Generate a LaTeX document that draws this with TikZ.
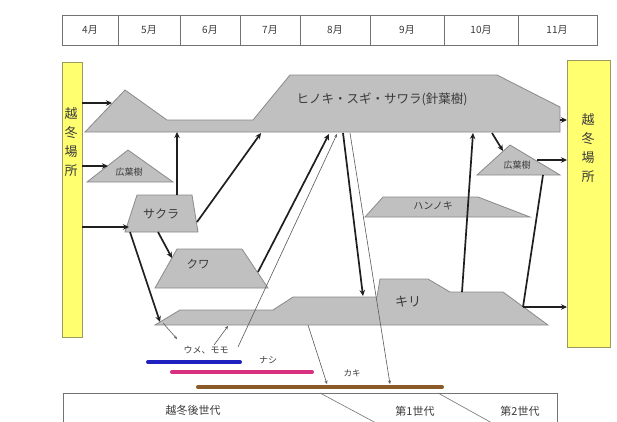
\documentclass[tikz,border=0pt]{standalone}
\usepackage{fontspec}
\setmainfont{Noto Sans CJK JP}
\usetikzlibrary{arrows.meta}
\definecolor{shapefill}{HTML}{C0C0C0}
\definecolor{shapeline}{HTML}{8A8A8A}
\definecolor{ybfill}{HTML}{FFFF70}
\definecolor{ybline}{HTML}{9A9A60}
\definecolor{txt}{HTML}{3A3A3A}
\definecolor{barblue}{HTML}{2020C0}
\definecolor{barpink}{HTML}{D8307E}
\definecolor{barbrown}{HTML}{8A5A28}
\begin{document}
\begin{tikzpicture}[x=1pt,y=-1pt,
  treeshape/.style={fill=shapefill,draw=shapeline,line width=0.8pt,line join=miter},
  ybox/.style={fill=ybfill,draw=ybline,line width=1pt,inner sep=0pt},
  lab/.style={text=txt,inner sep=0pt,font=\fontsize{#1}{#1}\selectfont},
  lab/.default=9,
  vlab/.style={text=txt,inner sep=0pt,align=center,font=\fontsize{13}{19}\selectfont},
  conn/.style={line width=1.7pt,draw=black!88,-{Stealth[length=6pt,width=5.5pt]}},
  plain/.style={line width=1.7pt,draw=black!88},
  thinconn/.style={line width=0.6pt,draw=black!65,-{Stealth[length=3.5pt,width=3pt]}},
  bar/.style={line width=4pt,line cap=round}]
\useasboundingbox (0,0) rectangle (617,421);
\clip (0,0) rectangle (617,421);
\fill[white] (0,0) rectangle (617,421);

% month header
\draw[draw=black!55,line width=0.8pt] (62,15) rectangle (597,45);
\foreach \xx in {118,180,240,300,370,444,518}
  \draw[draw=black!55,line width=0.8pt] (\xx,15) -- (\xx,45);
\node[lab=10] (m4) at (90,30) {4月};
\node[lab=10] (m5) at (149,30) {5月};
\node[lab=10] (m6) at (210,30) {6月};
\node[lab=10] (m7) at (270,30) {7月};
\node[lab=10] (m8) at (335,30) {8月};
\node[lab=10] (m9) at (407,30) {9月};
\node[lab=10] (m10) at (481,30) {10月};
\node[lab=10] (m11) at (557,30) {11月};

% overwintering boxes
\node[ybox,minimum width=20pt,minimum height=275pt] (lbox) at (72,199.5) {};
\node[ybox,minimum width=43pt,minimum height=287pt] (rbox) at (588.5,203.5) {};
\node[vlab] (ltxt) at (71,142) {越\\冬\\場\\所};
\node[vlab] (rtxt) at (588,148) {越\\冬\\場\\所};

% conifer shape
\draw[treeshape] (85,132) -- (125,90) -- (167,120) -- (253,120) -- (290,75) -- (497,75) -- (560,107) -- (560,132) -- cycle;
\node[lab=12.5] (conif) at (382,99) {ヒノキ・スギ・サワラ(針葉樹)};

% broadleaf left
\draw[treeshape] (87,182) -- (128,150) -- (173,182) -- cycle;
\node[lab=9] (bl) at (129,172) {広葉樹};

% sakura
\draw[treeshape] (137,195) -- (192,195) -- (198,232) -- (125,232) -- cycle;
\node[lab=12] (sakura) at (161,214) {サクラ};

% kuwa
\draw[treeshape] (177,249) -- (242,249) -- (268,288) -- (155,288) -- cycle;
\node[lab=11.5] (kuwa) at (198,264) {クワ};

% hannoki
\draw[treeshape] (383,197) -- (478,197) -- (530,217) -- (365,217) -- cycle;
\node[lab=10] (hannoki) at (433,206) {ハンノキ};

% broadleaf right
\draw[treeshape] (477,175) -- (510,145) -- (560,175) -- cycle;
\node[lab=9] (br) at (517,165) {広葉樹};

% kiri
\draw[treeshape] (155,325) -- (180,310) -- (273,310) -- (293,297) -- (377,297) -- (380,279) -- (428,279) -- (450,292) -- (503,292) -- (548,325) -- cycle;
\node[lab=13] (kiri) at (408,302) {キリ};

% fruit bars
\draw[bar,barblue] (148,362) -- (240,362);
\draw[bar,barpink] (172,372) -- (312,372);
\draw[bar,barbrown] (198,387) -- (442,387);
\node[lab=9] (ume) at (206,350) {ウメ、モモ};
\node[lab=9] (nashi) at (268,360) {ナシ};
\node[lab=8.5] (kaki) at (352,373) {カキ};

% generation box
\draw[draw=black!55,line width=0.8pt] (63,393) rectangle (557,440);
\draw[draw=black!55,line width=0.6pt] (320,393) -- (376,423);
\draw[draw=black!55,line width=0.6pt] (438,393) -- (492,423);
\node[lab=11] (g0) at (193,410) {越冬後世代};
\node[lab=11] (g1) at (415,411) {第1世代};
\node[lab=11] (g2) at (520,411) {第2世代};

% connector endpoints
\coordinate (l1) at (82,103);   \coordinate (c1) at (112,103);
\coordinate (l2) at (82,166);   \coordinate (bl1) at (108,166);
\coordinate (l3) at (82,227);   \coordinate (sk1) at (129,227);
\coordinate (sk2) at (177,195); \coordinate (c2) at (177,132);
\coordinate (sk3) at (197,222); \coordinate (c3) at (261,133);
\coordinate (sk4) at (158,232); \coordinate (kw1) at (172,258);
\coordinate (sk5) at (130,232); \coordinate (kr1) at (160,322);
\coordinate (kw2) at (258,272); \coordinate (c4) at (329,134);
\coordinate (mm1) at (238,347); \coordinate (c5) at (337,134);
\coordinate (c6) at (343,133);  \coordinate (kr2) at (363,296);
\coordinate (c7) at (350,133);  \coordinate (kk1) at (390,384);
\coordinate (c8) at (492,133);  \coordinate (br1) at (503,151);
\coordinate (br2) at (537,160); \coordinate (r1) at (567,160);
\coordinate (c9) at (560,120);  \coordinate (r2) at (567,120);
\coordinate (kr3) at (462,292); \coordinate (c10) at (473,133);
\coordinate (br3) at (543,175); \coordinate (kr4) at (523,307); \coordinate (r3) at (567,307);
\coordinate (kr5) at (163,323); \coordinate (um1) at (177,339);
\coordinate (mm2) at (214,345); \coordinate (kr6) at (228,326);
\coordinate (kr7) at (308,325); \coordinate (kk2) at (327,384);

% thick connectors
\draw[conn] (l1) -- (c1);
\draw[conn] (l2) -- (bl1);
\draw[conn] (l3) -- (sk1);
\draw[conn] (sk2) -- (c2);
\draw[conn] (sk3) -- (c3);
\draw[conn] (sk4) -- (kw1);
\draw[conn] (sk5) -- (kr1);
\draw[conn] (kw2) -- (c4);
\draw[conn] (c6) -- (kr2);
\draw[conn] (c8) -- (br1);
\draw[conn] (br2) -- (r1);
\draw[conn] (c9) -- (r2);
\draw[conn] (kr3) -- (c10);
\draw[plain] (br3) -- (kr4);
\draw[conn] (kr4) -- (r3);

% thin connectors
\draw[thinconn] (mm1) -- (c5);
\draw[thinconn] (c7) -- (kk1);
\draw[thinconn] (kr5) -- (um1);
\draw[thinconn] (mm2) -- (kr6);
\draw[thinconn] (kr7) -- (kk2);
\end{tikzpicture}
\end{document}
